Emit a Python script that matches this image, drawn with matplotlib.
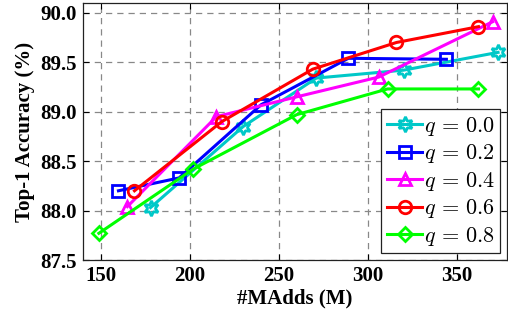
import matplotlib
matplotlib.use("Agg")
import matplotlib.pyplot as plt

plt.rcParams['font.family'] = ['Liberation Serif', 'DejaVu Serif']
plt.rcParams['mathtext.fontset'] = 'cm'

labels = [r'$q\,=\,0.0$', r'$q\,=\,0.2$', r'$q\,=\,0.4$', r'$q\,=\,0.6$', r'$q\,=\,0.8$']
x_q00 = [178, 230, 271, 320, 373]
y_q00 = [88.03, 88.85, 89.34, 89.42, 89.60]
x_q02 = [160, 194, 240, 289, 344]
y_q02 = [88.20, 88.33, 89.07, 89.54, 89.53]
x_q04 = [165, 215, 260, 306, 370]
y_q04 = [88.04, 88.95, 89.15, 89.35, 89.91]
x_q06 = [169, 218, 269, 316, 362]
y_q06 = [88.20, 88.90, 89.43, 89.70, 89.86]
x_q08 = [149, 202, 260, 311, 362]
y_q08 = [87.77, 88.42, 88.97, 89.23, 89.23]

xticks = [150, 200, 250, 300, 350]
yticks = [87.5, 88.0, 88.5, 89.0, 89.5, 90.0]

fig = plt.figure(figsize=(5.08, 3.25), dpi=100)
ax = fig.add_axes([0.163, 0.2, 0.835, 0.791])

series = [
    (x_q00, y_q00, '#00C8C8', (6, 1, 0)),
    (x_q02, y_q02, '#0000FF', 's'),
    (x_q04, y_q04, '#FF00FF', '^'),
    (x_q06, y_q06, '#FF0000', 'o'),
    (x_q08, y_q08, '#00FF00', 'D'),
]
for (xs, ys, c, m), lab in zip(series, labels):
    ms = 7.5 if m == 'D' else 9
    if m == (6, 1, 0):
        ms = 11
    ax.plot(xs, ys, color=c, lw=2.2, marker=m, markersize=ms,
            markerfacecolor='none', markeredgecolor=c, markeredgewidth=2.0,
            label=lab, zorder=3)

ax.set_xlim(140, 378)
ax.set_ylim(87.5, 90.1)
ax.set_xticks(xticks)
ax.set_yticks(yticks)
ax.set_yticklabels([f'{v:.1f}' for v in yticks])
ax.grid(True, linestyle=(0, (5, 4)), color='#888888', lw=0.9)
ax.tick_params(direction='in', top=True, right=True, length=4, width=0.8,
               labelsize=15, pad=4)
for lab in ax.get_xticklabels() + ax.get_yticklabels():
    lab.set_fontweight('bold')
for s in ax.spines.values():
    s.set_linewidth(0.9)
    s.set_color('#222222')

ax.set_xlabel('#MAdds (M)', fontsize=15, fontweight='bold', labelpad=2)
ax.set_ylabel('Top-1 Accuracy (%)', fontsize=15, fontweight='bold', labelpad=4)

leg = ax.legend(loc='lower right', fontsize=16, handlelength=1.6,
                handletextpad=0.05, borderpad=0.25, labelspacing=0.2,
                fancybox=False, framealpha=1, edgecolor='#222222',
                borderaxespad=0.3)
leg.get_frame().set_linewidth(0.9)

fig.savefig('out.png', dpi=100)
